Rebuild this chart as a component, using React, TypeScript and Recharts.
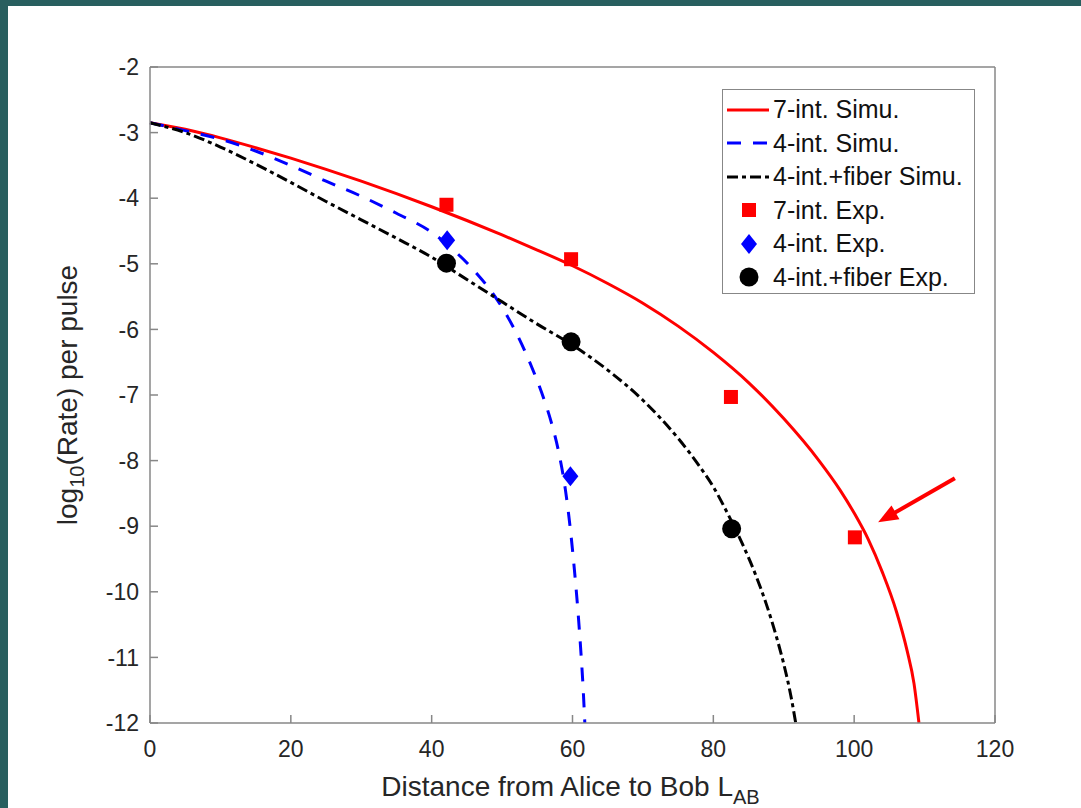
import React from "react";
import {
  ComposedChart,
  Line,
  Scatter,
  XAxis,
  YAxis,
  Legend,
  ReferenceLine,
} from "recharts";

// simulated curves as [distance, log10 rate]
const sim7Int: [number, number][] = [
  [0, -2.85], [5, -2.95], [10, -3.08], [15, -3.23], [20, -3.39], [25, -3.56],
  [30, -3.74], [35, -3.93], [40, -4.13], [45, -4.34], [50, -4.56], [55, -4.79],
  [60, -5.03], [65, -5.3], [70, -5.6], [75, -5.95], [80, -6.35], [85, -6.81],
  [90, -7.36], [95, -8.0], [98, -8.45], [100, -8.8], [102, -9.2], [104, -9.7],
  [106, -10.3], [107.5, -10.89], [108.5, -11.4], [109.2, -12],
];

const sim4Int: [number, number][] = [
  [0, -2.85], [5, -2.97], [10, -3.1], [15, -3.28], [20, -3.5], [25, -3.74],
  [30, -3.97], [35, -4.23], [40, -4.52], [43, -4.78], [46, -5.1], [49, -5.5],
  [52, -6.05], [54, -6.52], [56, -7.08], [57, -7.42], [58, -7.85], [59, -8.45],
  [59.7, -9.05], [60.3, -9.7], [60.8, -10.33], [61.2, -10.93], [61.5, -11.45],
  [61.75, -12],
];

const sim4IntFiber: [number, number][] = [
  [0, -2.85], [5, -3.0], [10, -3.22], [15, -3.48], [20, -3.76], [25, -4.05],
  [30, -4.33], [35, -4.61], [40, -4.9], [45, -5.24], [50, -5.58], [55, -5.92],
  [60, -6.24], [65, -6.62], [70, -7.08], [75, -7.66], [78, -8.08], [80, -8.4],
  [82, -8.8], [84, -9.24], [86, -9.74], [87.5, -10.18], [89, -10.7], [90, -11.1],
  [91, -11.58], [91.7, -12],
];

// experimental points
const exp7Int: [number, number][] = [
  [42.1, -4.1], [59.8, -4.93], [82.5, -7.03], [100.1, -9.17],
];
const exp4Int: [number, number][] = [[42.2, -4.64], [59.7, -8.24]];
const exp4IntFiber: [number, number][] = [
  [42.1, -4.99], [59.8, -6.19], [82.6, -9.04],
];

// annotation arrow, tail -> head
const arrowSegment: [number, number][] = [[114.3, -8.27], [103.4, -8.94]];

const xTicks = [0, 20, 40, 60, 80, 100, 120];
const yTicks = [-2, -3, -4, -5, -6, -7, -8, -9, -10, -11, -12];

const toPts = (arr: [number, number][]) => arr.map(([x, y]) => ({ x, y }));

const RED = "#ff0000";
const BLUE = "#0000ff";
const BLACK = "#000000";
const AXIS = "#878787";
const TEXT = "#262626";
const FONT = "'Liberation Sans', Arial, Helvetica, sans-serif";

const SquareMark = (p: any) => (
  <rect x={p.cx - 7} y={p.cy - 7} width={14} height={14} fill={RED} />
);
const DiamondMark = (p: any) => (
  <polygon
    points={`${p.cx},${p.cy - 10} ${p.cx + 8},${p.cy} ${p.cx},${p.cy + 10} ${p.cx - 8},${p.cy}`}
    fill={BLUE}
  />
);
const CircleMark = (p: any) => <circle cx={p.cx} cy={p.cy} r={9.5} fill={BLACK} />;

const legendRows = [
  { label: "7-int. Simu.", kind: "line", color: RED, dash: undefined },
  { label: "4-int. Simu.", kind: "line", color: BLUE, dash: "14 12" },
  { label: "4-int.+fiber Simu.", kind: "line", color: BLACK, dash: "11 4 4 4" },
  { label: "7-int. Exp.", kind: "square", color: RED },
  { label: "4-int. Exp.", kind: "diamond", color: BLUE },
  { label: "4-int.+fiber Exp.", kind: "circle", color: BLACK },
];

function LegendBox() {
  return (
    <div
      style={{
        border: `1.5px solid ${AXIS}`,
        background: "#fff",
        width: 253,
        height: 205,
        boxSizing: "border-box",
        paddingTop: 3,
        fontFamily: FONT,
      }}
    >
      {legendRows.map((r) => (
        <div
          key={r.label}
          style={{ display: "flex", alignItems: "center", height: 33.5 }}
        >
          <svg width={50} height={30} style={{ flex: "none" }}>
            {r.kind === "line" && (
              <line
                x1={4}
                y1={15}
                x2={46}
                y2={15}
                stroke={r.color}
                strokeWidth={3}
                strokeDasharray={r.dash}
              />
            )}
            {r.kind === "square" && <SquareMark cx={26} cy={15} />}
            {r.kind === "diamond" && <DiamondMark cx={26} cy={15} />}
            {r.kind === "circle" && <CircleMark cx={26} cy={15} />}
          </svg>
          <span style={{ fontSize: 25, color: "#111", lineHeight: 1 }}>
            {r.label}
          </span>
        </div>
      ))}
    </div>
  );
}

function YTitle(props: any) {
  const vb = props.viewBox;
  const x = vb.x - 13;
  const y = vb.y + vb.height / 2;
  return (
    <text
      x={x}
      y={y}
      transform={`rotate(-90 ${x} ${y})`}
      textAnchor="middle"
      fontSize={28}
      fill={TEXT}
      fontFamily={FONT}
    >
      log
      <tspan dy={7} fontSize={20}>10</tspan>
      <tspan dy={-7}>(Rate) per pulse</tspan>
    </text>
  );
}

function XTitle(props: any) {
  const vb = props.viewBox;
  const x = vb.x + vb.width / 2 - 2;
  const y = vb.y + 73;
  return (
    <text x={x} y={y} textAnchor="middle" fontSize={28} fill={TEXT} fontFamily={FONT}>
      Distance from Alice to Bob L
      <tspan dy={8} fontSize={20}>AB</tspan>
    </text>
  );
}

function Arrow(props: any) {
  const { x1, y1, x2, y2 } = props;
  const dx = x2 - x1;
  const dy = y2 - y1;
  const len = Math.sqrt(dx * dx + dy * dy);
  const ux = dx / len;
  const uy = dy / len;
  const head = 20;
  const half = 8;
  const bx = x2 - ux * head;
  const by = y2 - uy * head;
  const pts = `${x2},${y2} ${bx - uy * half},${by + ux * half} ${bx + uy * half},${by - ux * half}`;
  return (
    <g>
      <line x1={x1} y1={y1} x2={bx + ux * 2} y2={by + uy * 2} stroke={RED} strokeWidth={4} />
      <polygon points={pts} fill={RED} />
    </g>
  );
}

export default function App() {
  const tickStyle = { fill: TEXT, fontSize: 23, fontFamily: FONT };
  return (
    <div
      style={{
        position: "fixed",
        left: 0,
        top: 0,
        width: 1081,
        height: 808,
        background: "#285f5f",
        overflow: "hidden",
        fontFamily: FONT,
      }}
    >
      <div
        style={{
          position: "absolute",
          left: 8,
          top: 6,
          right: 0,
          bottom: 0,
          background: "#ffffff",
        }}
      />
      <div style={{ position: "absolute", left: 0, top: 0 }}>
        <ComposedChart
          width={1081}
          height={808}
          margin={{ top: 65, right: 84, bottom: 55, left: 90 }}
        >
          <XAxis
            dataKey="x"
            type="number"
            domain={[0, 120]}
            ticks={xTicks}
            interval={0}
            axisLine={{ stroke: AXIS, strokeWidth: 1.5 }}
            tickLine={{ stroke: AXIS, strokeWidth: 1.5 }}
            tickSize={-8}
            tickMargin={26}
            tick={tickStyle}
            height={30}
            label={<XTitle />}
          />
          <XAxis
            xAxisId="top"
            orientation="top"
            type="number"
            domain={[0, 120]}
            ticks={xTicks}
            interval={0}
            axisLine={{ stroke: AXIS, strokeWidth: 1.5 }}
            tickLine={{ stroke: AXIS, strokeWidth: 1.5 }}
            tickSize={-8}
            tick={false}
            height={2}
          />
          <YAxis
            type="number"
            domain={[-12, -2]}
            ticks={yTicks}
            interval={0}
            axisLine={{ stroke: AXIS, strokeWidth: 1.5 }}
            tickLine={{ stroke: AXIS, strokeWidth: 1.5 }}
            tickSize={-8}
            tickMargin={19}
            tick={tickStyle}
            width={60}
            label={<YTitle />}
          />
          <YAxis
            yAxisId="right"
            orientation="right"
            type="number"
            domain={[-12, -2]}
            ticks={yTicks}
            interval={0}
            axisLine={{ stroke: AXIS, strokeWidth: 1.5 }}
            tickLine={{ stroke: AXIS, strokeWidth: 1.5 }}
            tickSize={-8}
            tick={false}
            width={2}
          />
          <Line
            data={toPts(sim7Int)}
            dataKey="y"
            type="monotone"
            stroke={RED}
            strokeWidth={3}
            dot={false}
            activeDot={false}
            isAnimationActive={false}
          />
          <Line
            data={toPts(sim4Int)}
            dataKey="y"
            type="monotone"
            stroke={BLUE}
            strokeWidth={3}
            strokeDasharray="14 12"
            dot={false}
            activeDot={false}
            isAnimationActive={false}
          />
          <Line
            data={toPts(sim4IntFiber)}
            dataKey="y"
            type="monotone"
            stroke={BLACK}
            strokeWidth={3}
            strokeDasharray="11 4 4 4"
            dot={false}
            activeDot={false}
            isAnimationActive={false}
          />
          <Scatter
            data={toPts(exp7Int)}
            dataKey="y"
            shape={SquareMark}
            isAnimationActive={false}
          />
          <Scatter
            data={toPts(exp4Int)}
            dataKey="y"
            shape={DiamondMark}
            isAnimationActive={false}
          />
          <Scatter
            data={toPts(exp4IntFiber)}
            dataKey="y"
            shape={CircleMark}
            isAnimationActive={false}
          />
          <ReferenceLine
            segment={toPts(arrowSegment)}
            shape={Arrow}
            stroke={RED}
          />
          <Legend
            layout="vertical"
            align="center"
            verticalAlign="middle"
            content={() => <LegendBox />}
            wrapperStyle={{ position: "absolute", left: 722, top: 89, width: 253, height: 205 }}
          />
        </ComposedChart>
      </div>
    </div>
  );
}
